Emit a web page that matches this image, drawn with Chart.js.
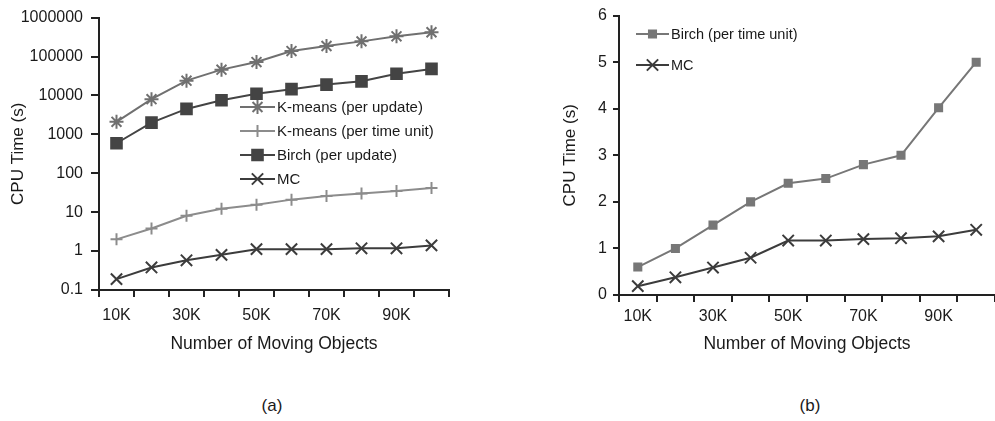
<!DOCTYPE html>
<html>
<head>
<meta charset="utf-8">
<script src="https://cdn.jsdelivr.net/npm/chart.js@4/dist/chart.umd.min.js"></script>
<style>
  html, body { margin: 0; padding: 0; background: #fff; width: 995px; height: 421px; overflow: hidden; position: relative; }
  canvas { position: absolute; top: 0; }
  #chartA { left: 0; }
  #chartB { left: 530px; }
  .cap { position: absolute; top: 396px; font: 17px "Liberation Sans", Arial, sans-serif; color: #1a1a1a; width: 60px; text-align: center; }
</style>
</head>
<body>
<canvas id="chartA" width="480" height="380"></canvas>
<canvas id="chartB" width="475" height="380"></canvas>
<div class="cap" style="left:242px">(a)</div>
<div class="cap" style="left:780px">(b)</div>
<script>
// data
const categories = ['10K','20K','30K','40K','50K','60K','70K','80K','90K','100K'];
const kmeansUpdate = [2100, 8000, 24000, 46000, 72000, 138000, 186000, 245000, 330000, 420000];
const kmeansTimeUnit = [2, 3.8, 8.1, 12.3, 15.5, 21, 26, 30, 35, 42];
const birchUpdate = [590, 2000, 4500, 7500, 11000, 14500, 19000, 23000, 36000, 48000];
const mcA = [0.19, 0.38, 0.58, 0.8, 1.12, 1.12, 1.12, 1.18, 1.18, 1.4];
const birchTimeUnit = [0.6, 1.0, 1.5, 2.0, 2.4, 2.5, 2.8, 3.0, 4.02, 5.0];
const mcB = [0.19, 0.38, 0.59, 0.8, 1.17, 1.17, 1.2, 1.22, 1.26, 1.4];
const logTicks = [0.1, 1, 10, 100, 1000, 10000, 100000, 1000000];

Chart.defaults.font.family = '"Liberation Sans", Arial, sans-serif';
Chart.defaults.color = '#1a1a1a';
Chart.defaults.animation = false;

const axisColor = '#222';

// legend drawn inside the plot: short line + marker + label
const inlineLegend = {
  id: 'inlineLegend',
  afterDraw(chart, args, opts) {
    const ctx = chart.ctx;
    ctx.save();
    chart.data.datasets.forEach((ds, i) => {
      const y = opts.y + i * opts.gap;
      ctx.strokeStyle = ds.borderColor;
      ctx.fillStyle = ds.backgroundColor;
      ctx.lineWidth = 2;
      ctx.beginPath();
      ctx.moveTo(opts.x, y);
      ctx.lineTo(opts.x + opts.len, y);
      ctx.stroke();
      Chart.helpers.drawPoint(ctx, {pointStyle: ds.pointStyle, radius: ds.pointRadius, borderWidth: 2, rotation: 0}, opts.x + opts.len / 2, y);
      ctx.fillStyle = '#1a1a1a';
      ctx.font = opts.fontSize + 'px "Liberation Sans", Arial, sans-serif';
      ctx.textBaseline = 'middle';
      ctx.fillText(ds.label, opts.x + opts.len + 2, y + 1);
    });
    ctx.restore();
  }
};

function series(label, data, color, style, r) {
  return {label, data, borderColor: color, backgroundColor: color, borderWidth: 2,
    pointStyle: style, pointRadius: r, pointBorderWidth: 2, tension: 0};
}

function xAxis(height, tickPad) {
  return {
    type: 'category',
    offset: true,
    grid: {offset: true, drawOnChartArea: false, drawTicks: true, tickLength: 7, color: axisColor, lineWidth: 2},
    border: {color: axisColor, width: 2},
    ticks: {autoSkip: false, maxRotation: 0, padding: tickPad, font: {size: 16},
      callback: function (v, i) { return i % 2 === 0 ? categories[i] : ''; }},
    title: {display: true, text: 'Number of Moving Objects', font: {size: 17.5}, padding: {top: 0, bottom: 25}},
    afterFit: s => { s.height = height; }
  };
}

new Chart(document.getElementById('chartA'), {
  type: 'line',
  data: {
    labels: categories,
    datasets: [
      series('K-means (per update)', kmeansUpdate, '#707070', 'star', 7),
      series('K-means (per time unit)', kmeansTimeUnit, '#8c8c8c', 'cross', 6),
      series('Birch (per update)', birchUpdate, '#444444', 'rect', 7.5),
      series('MC', mcA, '#3c3c3c', 'crossRot', 8)
    ]
  },
  options: {
    responsive: false,
    layout: {padding: {top: 14, right: 31, left: 0, bottom: 0}},
    plugins: {legend: {display: false}, tooltip: {enabled: false},
      inlineLegend: {x: 240, y: 107, gap: 24, len: 35, fontSize: 15}},
    scales: {
      x: xAxis(90, 9),
      y: {
        type: 'logarithmic', min: 0.1, max: 1000000,
        afterBuildTicks: s => { s.ticks = logTicks.map(v => ({value: v})); },
        grid: {drawOnChartArea: false, tickLength: 8, color: axisColor, lineWidth: 2},
        border: {color: axisColor, width: 2},
        ticks: {padding: 8, font: {size: 16}, callback: v => String(v)},
        title: {display: true, text: 'CPU Time (s)', font: {size: 17}, padding: {top: 8, bottom: 0}},
        afterFit: s => { s.width = 99; }
      }
    }
  },
  plugins: [inlineLegend]
});

new Chart(document.getElementById('chartB'), {
  type: 'line',
  data: {
    labels: categories,
    datasets: [
      series('Birch (per time unit)', birchTimeUnit, '#777777', 'rect', 5),
      series('MC', mcB, '#3c3c3c', 'crossRot', 8)
    ]
  },
  options: {
    responsive: false,
    layout: {padding: {top: 13, right: 3, left: 0, bottom: 0}},
    plugins: {legend: {display: false}, tooltip: {enabled: false},
      inlineLegend: {x: 106, y: 34, gap: 31, len: 33, fontSize: 14.5}},
    scales: {
      x: xAxis(85, 5),
      y: {
        min: 0, max: 6,
        grid: {drawOnChartArea: false, tickLength: 6, color: axisColor, lineWidth: 2},
        border: {color: axisColor, width: 2},
        ticks: {stepSize: 1, padding: 6, font: {size: 16}},
        title: {display: true, text: 'CPU Time (s)', font: {size: 17}, padding: {top: 30, bottom: 0}},
        afterFit: s => { s.width = 89; }
      }
    }
  },
  plugins: [inlineLegend]
});
</script>
</body>
</html>
